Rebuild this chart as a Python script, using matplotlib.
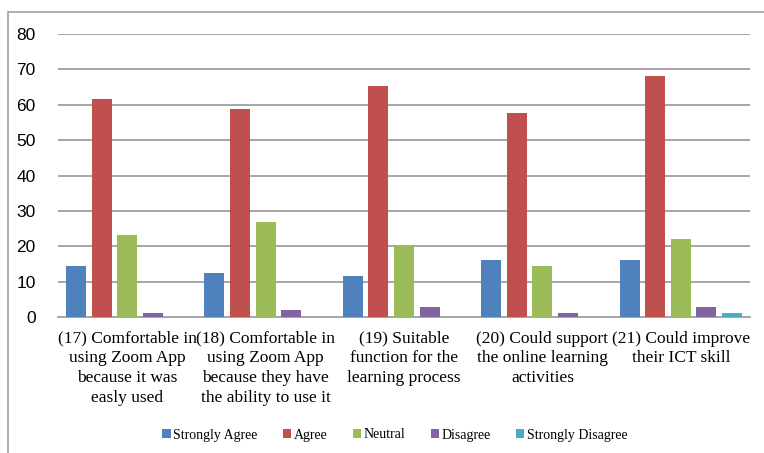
import matplotlib.pyplot as plt
import numpy as np
from matplotlib.patches import Rectangle

# survey items
categories = ["(17) Comfortable in\nusing Zoom App\nbecause it was\neasly used",
              "(18) Comfortable in\nusing Zoom App\nbecause they have\nthe ability to use it",
              "(19) Suitable\nfunction for the\nlearning process",
              "(20) Could support\nthe online learning\nactivities",
              "(21) Could improve\ntheir ICT skill"]
series = ["Strongly Agree", "Agree", "Neutral", "Disagree", "Strongly Disagree"]
strongly_agree = [14.3, 12.5, 11.5, 16.2, 16.2]
agree = [61.6, 58.7, 65.3, 57.6, 68.2]
neutral = [23.2, 26.8, 20.1, 14.3, 22.1]
disagree = [1.0, 2.0, 2.9, 1.0, 2.9]
strongly_disagree = [0, 0, 0, 0, 1.0]
colors = ["#4F81BD", "#C0504D", "#9BBB59", "#8064A2", "#4BACC6"]

fig = plt.figure(figsize=(7.64, 4.53), dpi=100)
# outer chart border
fig.patches.append(Rectangle((8/764, -0.1), 1.2, 1 - 12/453 + 0.1, transform=fig.transFigure,
                             fill=False, edgecolor="#a0a0a0", linewidth=1.2))
ax = fig.add_axes([58/764, 1 - 317/453, 692/764, 283/453])

x = np.arange(len(categories))
pitch = 0.185
width = 0.145
for i, (vals, name) in enumerate(zip([strongly_agree, agree, neutral, disagree, strongly_disagree], series)):
    ax.bar(x + (i - 2) * pitch, vals, width, color=colors[i], label=name, zorder=3)

ax.set_xlim(-0.5, len(categories) - 0.5)
ax.set_ylim(0, 80)
ax.set_yticks(range(0, 81, 10))
ax.yaxis.grid(True, color="#a6a6a6", linewidth=1.4, zorder=0)
for s in ["top", "right", "left"]:
    ax.spines[s].set_visible(False)
ax.spines["bottom"].set_color("#a6a6a6")
ax.spines["bottom"].set_linewidth(1.4)
ax.tick_params(length=0)
ax.tick_params(axis="y", pad=16, labelsize=12.5)
for t in ax.get_yticklabels():
    t.set_family("Liberation Sans")
ax.set_xticks(x)
ax.set_xticklabels(categories, family="Liberation Serif", fontsize=12.5, linespacing=1.3)
ax.tick_params(axis="x", pad=10)

fig.legend(loc="center", bbox_to_anchor=(395/764, 1 - 435/453), ncol=5, frameon=False,
           prop={"family": "Liberation Serif", "size": 10}, handlelength=0.6, handleheight=0.6,
           handletextpad=0.2, columnspacing=1.8)

fig.savefig("out.png", dpi=100)
